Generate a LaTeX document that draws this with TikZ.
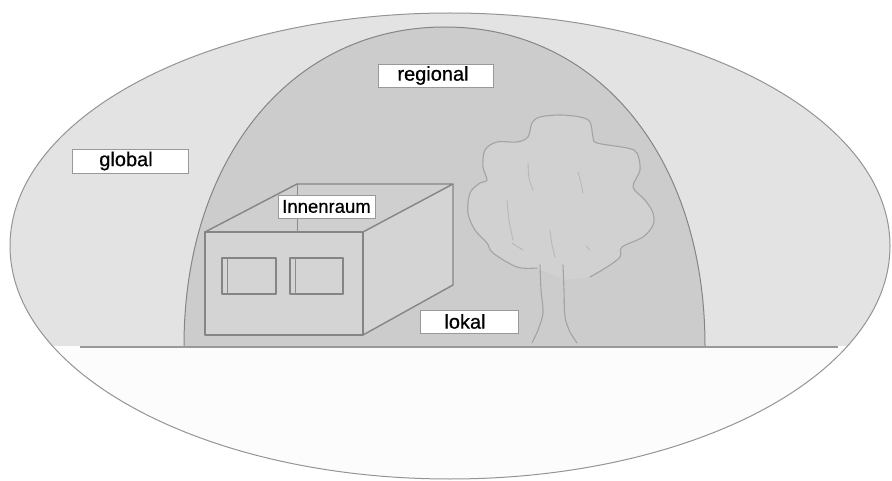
\documentclass[tikz,border=0pt]{standalone}
\usepackage{fontspec}
\setmainfont{Liberation Sans}
\newfontfamily\labelfont[FakeBold=0.6]{Liberation Sans}
\begin{document}
\begin{tikzpicture}[x=1pt,y=-1pt,
  outline/.style={draw=black!42,line width=1pt},
  boxedge/.style={draw=black!48,line width=1.4pt,line join=round},
  treeline/.style={draw=black!36,line width=1.1pt,line cap=round,line join=round},
  labelbox/.style={draw=black!40,line width=0.6pt,fill=white,inner sep=0pt,
    font=\labelfont\fontsize{20}{22}\selectfont,text=black}]
\useasboundingbox (0,0) rectangle (892,481);

% outer space: sky part grey, ground part white
\fill[black!1] (450,246) ellipse [x radius=440,y radius=233];
\begin{scope}
  \clip (450,246) ellipse [x radius=440,y radius=233];
  \fill[black!11] (0,0) rectangle (892,346);
\end{scope}

% regional dome
\path[fill=black!20,draw=black!48,line width=1pt]
  (184,346) .. controls (184,160) and (290,27) .. (445,27)
  .. controls (600,27) and (705,160) .. (705,346);

% tree
\path[fill=black!18]
  plot[smooth,tension=0.55] coordinates {(537,268) (517,267) (493,253) (487,243) (475,230)
   (468,213) (470,193) (480,183) (487,180) (483,167) (485,150) (497,142) (517,142)
   (528,137) (532,123) (540,117) (560,115) (580,117) (590,122) (593,137) (597,143)
   (627,148) (637,153) (640,170) (633,187) (645,200) (653,213) (653,225) (643,237)
   (622,247) (620,257) (607,267) (590,277)} -- (565,280) -- cycle;
\draw[treeline]
  plot[smooth,tension=0.55] coordinates {(537,268) (517,267) (493,253) (487,243) (475,230)
   (468,213) (470,193) (480,183) (487,180) (483,167) (485,150) (497,142) (517,142)
   (528,137) (532,123) (540,117) (560,115) (580,117) (590,122) (593,137) (597,143)
   (627,148) (637,153) (640,170) (633,187) (645,200) (653,213) (653,225) (643,237)
   (622,247) (620,257) (607,267) (590,277)};
\draw[treeline] plot[smooth] coordinates {(540,265) (541,290) (543,313) (538,330) (532,343)};
\draw[treeline] plot[smooth] coordinates {(563,265) (564,290) (565,317) (570,332) (577,343)};
\begin{scope}[draw=black!28,line width=0.9pt,line cap=round]
  \draw plot[smooth] coordinates {(528,163) (529,178) (533,190)};
  \draw plot[smooth] coordinates {(578,172) (581,183) (583,193)};
  \draw plot[smooth] coordinates {(507,200) (509,220) (513,240)};
  \draw plot[smooth] coordinates {(512,243) (518,247) (523,250)};
  \draw plot[smooth] coordinates {(550,230) (552,245) (555,257)};
  \draw plot[smooth] coordinates {(586,246) (590,250)};
\end{scope}

% house as an open box
\coordinate (fl) at (205,232);
\coordinate (fr) at (363,232);
\coordinate (br) at (453,184);
\coordinate (bl) at (297,184);
\coordinate (fbl) at (205,335);
\coordinate (fbr) at (363,335);
\coordinate (bbr) at (453,285);
\path[fill=black!19] (fl) -- (bl) -- (br) -- (fr) -- cycle;
\path[fill=black!17] (fr) -- (br) -- (bbr) -- (fbr) -- cycle;
\path[fill=black!17] (fl) rectangle (fbr);
\draw[boxedge] (fl) -- (bl) -- (br) -- (fr) -- cycle;
\draw[boxedge] (fl) rectangle (fbr);
\draw[boxedge] (br) -- (bbr) -- (fbr);
\draw[draw=black!45,line width=0.9pt] (bl) -- (297,232);

% windows
\draw[boxedge,line width=1.2pt] (222,258) rectangle (276,294);
\draw[draw=black!45,line width=0.8pt] (227,258) -- (227,294);
\draw[boxedge,line width=1.2pt] (290,258) rectangle (343,294);
\draw[draw=black!45,line width=0.8pt] (295,258) -- (295,294);

% outer outline and horizon
\draw[outline] (450,246) ellipse [x radius=440,y radius=233];
\coordinate (hl) at (80,347);
\coordinate (hr) at (838,347);
\draw[draw=black!40,line width=1.6pt] (hl) -- (hr);

% labels
\node[labelbox,minimum width=116pt,minimum height=24pt] (global) at (130,161) {global\hspace*{8pt}};
\node[labelbox,minimum width=115pt,minimum height=23pt] (regional) at (435.5,75.5) {regional\hspace*{5pt}};
\node[labelbox,minimum width=97pt,minimum height=23pt,font=\labelfont\fontsize{18.5}{20}\selectfont] (innen) at (326.5,206.5) {Innenraum};
\node[labelbox,minimum width=98pt,minimum height=23pt] (lokal) at (469,321.5) {lokal\hspace*{8pt}};
\end{tikzpicture}
\end{document}
